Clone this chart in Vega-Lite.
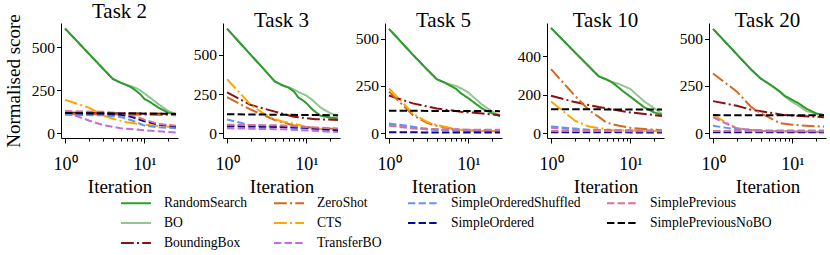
{
"$schema":"https://vega.github.io/schema/vega-lite/v6.json",
"padding":{"left":4,"top":0,"right":0,"bottom":0},
"bounds":"flush",
"spacing":45,
"datasets":{"d":[
{"t":2,"m":"BO","x":1,"y":610},{"t":2,"m":"BO","x":2,"y":463},{"t":2,"m":"BO","x":3,"y":377},{"t":2,"m":"BO","x":4,"y":317},{"t":2,"m":"BO","x":5,"y":295},{"t":2,"m":"BO","x":6,"y":282},{"t":2,"m":"BO","x":7,"y":272},{"t":2,"m":"BO","x":8,"y":262},{"t":2,"m":"BO","x":9,"y":248},{"t":2,"m":"BO","x":10,"y":232},{"t":2,"m":"BO","x":12,"y":205},{"t":2,"m":"BO","x":15,"y":170},{"t":2,"m":"BO","x":20,"y":130},{"t":2,"m":"BO","x":25,"y":112},
{"t":2,"m":"RandomSearch","x":1,"y":610},{"t":2,"m":"RandomSearch","x":2,"y":463},{"t":2,"m":"RandomSearch","x":3,"y":377},{"t":2,"m":"RandomSearch","x":4,"y":317},{"t":2,"m":"RandomSearch","x":5,"y":295},{"t":2,"m":"RandomSearch","x":6,"y":280},{"t":2,"m":"RandomSearch","x":7,"y":265},{"t":2,"m":"RandomSearch","x":8,"y":245},{"t":2,"m":"RandomSearch","x":9,"y":225},{"t":2,"m":"RandomSearch","x":10,"y":200},{"t":2,"m":"RandomSearch","x":12,"y":180},{"t":2,"m":"RandomSearch","x":15,"y":150},{"t":2,"m":"RandomSearch","x":20,"y":120},{"t":2,"m":"RandomSearch","x":25,"y":108},
{"t":2,"m":"BoundingBox","x":1,"y":120},{"t":2,"m":"BoundingBox","x":5,"y":117},{"t":2,"m":"BoundingBox","x":25,"y":114},
{"t":2,"m":"ZeroShot","x":1,"y":112},{"t":2,"m":"ZeroShot","x":5,"y":110},{"t":2,"m":"ZeroShot","x":10,"y":108},{"t":2,"m":"ZeroShot","x":25,"y":106},
{"t":2,"m":"CTS","x":1,"y":195},{"t":2,"m":"CTS","x":2,"y":150},{"t":2,"m":"CTS","x":3,"y":105},{"t":2,"m":"CTS","x":4,"y":85},{"t":2,"m":"CTS","x":6,"y":65},{"t":2,"m":"CTS","x":10,"y":50},{"t":2,"m":"CTS","x":15,"y":42},{"t":2,"m":"CTS","x":25,"y":35},
{"t":2,"m":"TransferBO","x":1,"y":125},{"t":2,"m":"TransferBO","x":2,"y":75},{"t":2,"m":"TransferBO","x":3,"y":48},{"t":2,"m":"TransferBO","x":5,"y":30},{"t":2,"m":"TransferBO","x":10,"y":18},{"t":2,"m":"TransferBO","x":25,"y":5},
{"t":2,"m":"SimpleOrderedShuffled","x":1,"y":108},{"t":2,"m":"SimpleOrderedShuffled","x":3,"y":105},{"t":2,"m":"SimpleOrderedShuffled","x":5,"y":95},{"t":2,"m":"SimpleOrderedShuffled","x":7,"y":75},{"t":2,"m":"SimpleOrderedShuffled","x":10,"y":45},{"t":2,"m":"SimpleOrderedShuffled","x":15,"y":35},{"t":2,"m":"SimpleOrderedShuffled","x":25,"y":30},
{"t":2,"m":"SimpleOrdered","x":1,"y":120},{"t":2,"m":"SimpleOrdered","x":3,"y":115},{"t":2,"m":"SimpleOrdered","x":5,"y":108},{"t":2,"m":"SimpleOrdered","x":7,"y":95},{"t":2,"m":"SimpleOrdered","x":10,"y":70},{"t":2,"m":"SimpleOrdered","x":15,"y":50},{"t":2,"m":"SimpleOrdered","x":25,"y":40},
{"t":2,"m":"SimplePrevious","x":1,"y":130},{"t":2,"m":"SimplePrevious","x":3,"y":125},{"t":2,"m":"SimplePrevious","x":5,"y":118},{"t":2,"m":"SimplePrevious","x":7,"y":105},{"t":2,"m":"SimplePrevious","x":10,"y":80},{"t":2,"m":"SimplePrevious","x":15,"y":55},{"t":2,"m":"SimplePrevious","x":25,"y":45},
{"t":2,"m":"SimplePreviousNoBO","x":1,"y":118},{"t":2,"m":"SimplePreviousNoBO","x":5,"y":116},{"t":2,"m":"SimplePreviousNoBO","x":25,"y":113},

{"t":3,"m":"BO","x":1,"y":666},{"t":3,"m":"BO","x":2,"y":498},{"t":3,"m":"BO","x":3,"y":401},{"t":3,"m":"BO","x":4,"y":330},{"t":3,"m":"BO","x":5,"y":305},{"t":3,"m":"BO","x":6,"y":292},{"t":3,"m":"BO","x":7,"y":278},{"t":3,"m":"BO","x":8,"y":262},{"t":3,"m":"BO","x":10,"y":240},{"t":3,"m":"BO","x":12,"y":210},{"t":3,"m":"BO","x":15,"y":165},{"t":3,"m":"BO","x":20,"y":128},{"t":3,"m":"BO","x":25,"y":110},
{"t":3,"m":"RandomSearch","x":1,"y":666},{"t":3,"m":"RandomSearch","x":2,"y":498},{"t":3,"m":"RandomSearch","x":3,"y":401},{"t":3,"m":"RandomSearch","x":4,"y":330},{"t":3,"m":"RandomSearch","x":5,"y":305},{"t":3,"m":"RandomSearch","x":6,"y":290},{"t":3,"m":"RandomSearch","x":7,"y":265},{"t":3,"m":"RandomSearch","x":8,"y":225},{"t":3,"m":"RandomSearch","x":9,"y":210},{"t":3,"m":"RandomSearch","x":10,"y":192},{"t":3,"m":"RandomSearch","x":12,"y":150},{"t":3,"m":"RandomSearch","x":15,"y":112},{"t":3,"m":"RandomSearch","x":20,"y":100},{"t":3,"m":"RandomSearch","x":25,"y":95},
{"t":3,"m":"BoundingBox","x":1,"y":260},{"t":3,"m":"BoundingBox","x":2,"y":180},{"t":3,"m":"BoundingBox","x":4,"y":138},{"t":3,"m":"BoundingBox","x":7,"y":105},{"t":3,"m":"BoundingBox","x":13,"y":90},{"t":3,"m":"BoundingBox","x":25,"y":85},
{"t":3,"m":"ZeroShot","x":1,"y":230},{"t":3,"m":"ZeroShot","x":2,"y":150},{"t":3,"m":"ZeroShot","x":4,"y":85},{"t":3,"m":"ZeroShot","x":7,"y":50},{"t":3,"m":"ZeroShot","x":12,"y":35},{"t":3,"m":"ZeroShot","x":25,"y":28},
{"t":3,"m":"CTS","x":1,"y":345},{"t":3,"m":"CTS","x":2,"y":180},{"t":3,"m":"CTS","x":3,"y":120},{"t":3,"m":"CTS","x":4,"y":90},{"t":3,"m":"CTS","x":5,"y":75},{"t":3,"m":"CTS","x":7,"y":60},{"t":3,"m":"CTS","x":10,"y":40},{"t":3,"m":"CTS","x":15,"y":28},{"t":3,"m":"CTS","x":25,"y":18},
{"t":3,"m":"TransferBO","x":1,"y":32},{"t":3,"m":"TransferBO","x":5,"y":25},{"t":3,"m":"TransferBO","x":25,"y":8},
{"t":3,"m":"SimpleOrderedShuffled","x":1,"y":88},{"t":3,"m":"SimpleOrderedShuffled","x":2,"y":50},{"t":3,"m":"SimpleOrderedShuffled","x":5,"y":40},{"t":3,"m":"SimpleOrderedShuffled","x":10,"y":30},{"t":3,"m":"SimpleOrderedShuffled","x":25,"y":18},
{"t":3,"m":"SimpleOrdered","x":1,"y":45},{"t":3,"m":"SimpleOrdered","x":5,"y":40},{"t":3,"m":"SimpleOrdered","x":10,"y":35},{"t":3,"m":"SimpleOrdered","x":25,"y":20},
{"t":3,"m":"SimplePrevious","x":1,"y":55},{"t":3,"m":"SimplePrevious","x":5,"y":50},{"t":3,"m":"SimplePrevious","x":10,"y":40},{"t":3,"m":"SimplePrevious","x":25,"y":30},
{"t":3,"m":"SimplePreviousNoBO","x":1,"y":121},{"t":3,"m":"SimplePreviousNoBO","x":25,"y":115},

{"t":5,"m":"BO","x":1,"y":552},{"t":5,"m":"BO","x":2,"y":415},{"t":5,"m":"BO","x":3,"y":338},{"t":5,"m":"BO","x":4,"y":286},{"t":5,"m":"BO","x":5,"y":268},{"t":5,"m":"BO","x":6,"y":258},{"t":5,"m":"BO","x":7,"y":250},{"t":5,"m":"BO","x":8,"y":238},{"t":5,"m":"BO","x":10,"y":215},{"t":5,"m":"BO","x":12,"y":185},{"t":5,"m":"BO","x":15,"y":150},{"t":5,"m":"BO","x":20,"y":115},{"t":5,"m":"BO","x":25,"y":95},
{"t":5,"m":"RandomSearch","x":1,"y":552},{"t":5,"m":"RandomSearch","x":2,"y":415},{"t":5,"m":"RandomSearch","x":3,"y":338},{"t":5,"m":"RandomSearch","x":4,"y":286},{"t":5,"m":"RandomSearch","x":5,"y":268},{"t":5,"m":"RandomSearch","x":6,"y":250},{"t":5,"m":"RandomSearch","x":7,"y":235},{"t":5,"m":"RandomSearch","x":8,"y":212},{"t":5,"m":"RandomSearch","x":10,"y":185},{"t":5,"m":"RandomSearch","x":12,"y":160},{"t":5,"m":"RandomSearch","x":15,"y":130},{"t":5,"m":"RandomSearch","x":20,"y":105},{"t":5,"m":"RandomSearch","x":25,"y":90},
{"t":5,"m":"BoundingBox","x":1,"y":200},{"t":5,"m":"BoundingBox","x":2,"y":158},{"t":5,"m":"BoundingBox","x":4,"y":131},{"t":5,"m":"BoundingBox","x":8,"y":114},{"t":5,"m":"BoundingBox","x":15,"y":105},{"t":5,"m":"BoundingBox","x":25,"y":95},
{"t":5,"m":"ZeroShot","x":1,"y":220},{"t":5,"m":"ZeroShot","x":2,"y":96},{"t":5,"m":"ZeroShot","x":3,"y":55},{"t":5,"m":"ZeroShot","x":4,"y":39},{"t":5,"m":"ZeroShot","x":6,"y":25},{"t":5,"m":"ZeroShot","x":10,"y":15},{"t":5,"m":"ZeroShot","x":25,"y":10},
{"t":5,"m":"CTS","x":1,"y":237},{"t":5,"m":"CTS","x":2,"y":105},{"t":5,"m":"CTS","x":3,"y":60},{"t":5,"m":"CTS","x":4,"y":44},{"t":5,"m":"CTS","x":6,"y":28},{"t":5,"m":"CTS","x":8,"y":18},{"t":5,"m":"CTS","x":15,"y":12},{"t":5,"m":"CTS","x":25,"y":10},
{"t":5,"m":"TransferBO","x":1,"y":45},{"t":5,"m":"TransferBO","x":2,"y":30},{"t":5,"m":"TransferBO","x":4,"y":20},{"t":5,"m":"TransferBO","x":25,"y":15},
{"t":5,"m":"SimpleOrderedShuffled","x":1,"y":52},{"t":5,"m":"SimpleOrderedShuffled","x":2,"y":35},{"t":5,"m":"SimpleOrderedShuffled","x":3,"y":20},{"t":5,"m":"SimpleOrderedShuffled","x":10,"y":12},{"t":5,"m":"SimpleOrderedShuffled","x":25,"y":10},
{"t":5,"m":"SimpleOrdered","x":1,"y":5},{"t":5,"m":"SimpleOrdered","x":25,"y":4},
{"t":5,"m":"SimplePrevious","x":1,"y":40},{"t":5,"m":"SimplePrevious","x":2,"y":25},{"t":5,"m":"SimplePrevious","x":5,"y":20},{"t":5,"m":"SimplePrevious","x":25,"y":18},
{"t":5,"m":"SimplePreviousNoBO","x":1,"y":119},{"t":5,"m":"SimplePreviousNoBO","x":25,"y":117},

{"t":10,"m":"BO","x":1,"y":548},{"t":10,"m":"BO","x":2,"y":421},{"t":10,"m":"BO","x":3,"y":348},{"t":10,"m":"BO","x":4,"y":296},{"t":10,"m":"BO","x":5,"y":280},{"t":10,"m":"BO","x":6,"y":265},{"t":10,"m":"BO","x":7,"y":258},{"t":10,"m":"BO","x":8,"y":248},{"t":10,"m":"BO","x":10,"y":230},{"t":10,"m":"BO","x":12,"y":200},{"t":10,"m":"BO","x":15,"y":165},{"t":10,"m":"BO","x":20,"y":130},{"t":10,"m":"BO","x":25,"y":100},
{"t":10,"m":"RandomSearch","x":1,"y":548},{"t":10,"m":"RandomSearch","x":2,"y":421},{"t":10,"m":"RandomSearch","x":3,"y":348},{"t":10,"m":"RandomSearch","x":4,"y":296},{"t":10,"m":"RandomSearch","x":5,"y":280},{"t":10,"m":"RandomSearch","x":6,"y":262},{"t":10,"m":"RandomSearch","x":7,"y":240},{"t":10,"m":"RandomSearch","x":8,"y":220},{"t":10,"m":"RandomSearch","x":10,"y":190},{"t":10,"m":"RandomSearch","x":12,"y":165},{"t":10,"m":"RandomSearch","x":15,"y":135},{"t":10,"m":"RandomSearch","x":20,"y":108},{"t":10,"m":"RandomSearch","x":25,"y":95},
{"t":10,"m":"BoundingBox","x":1,"y":195},{"t":10,"m":"BoundingBox","x":2,"y":162},{"t":10,"m":"BoundingBox","x":4,"y":136},{"t":10,"m":"BoundingBox","x":10,"y":108},{"t":10,"m":"BoundingBox","x":25,"y":90},
{"t":10,"m":"ZeroShot","x":1,"y":334},{"t":10,"m":"ZeroShot","x":2,"y":195},{"t":10,"m":"ZeroShot","x":3,"y":120},{"t":10,"m":"ZeroShot","x":4,"y":85},{"t":10,"m":"ZeroShot","x":5,"y":55},{"t":10,"m":"ZeroShot","x":7,"y":40},{"t":10,"m":"ZeroShot","x":10,"y":28},{"t":10,"m":"ZeroShot","x":15,"y":22},{"t":10,"m":"ZeroShot","x":25,"y":15},
{"t":10,"m":"CTS","x":1,"y":165},{"t":10,"m":"CTS","x":2,"y":65},{"t":10,"m":"CTS","x":3,"y":35},{"t":10,"m":"CTS","x":6,"y":15},{"t":10,"m":"CTS","x":25,"y":10},
{"t":10,"m":"TransferBO","x":1,"y":28},{"t":10,"m":"TransferBO","x":3,"y":15},{"t":10,"m":"TransferBO","x":25,"y":14},
{"t":10,"m":"SimpleOrderedShuffled","x":1,"y":35},{"t":10,"m":"SimpleOrderedShuffled","x":3,"y":18},{"t":10,"m":"SimpleOrderedShuffled","x":25,"y":12},
{"t":10,"m":"SimpleOrdered","x":1,"y":5},{"t":10,"m":"SimpleOrdered","x":25,"y":4},
{"t":10,"m":"SimplePrevious","x":1,"y":12},{"t":10,"m":"SimplePrevious","x":25,"y":10},
{"t":10,"m":"SimplePreviousNoBO","x":1,"y":125},{"t":10,"m":"SimplePreviousNoBO","x":25,"y":123},

{"t":20,"m":"BO","x":1,"y":552},{"t":20,"m":"BO","x":2,"y":417},{"t":20,"m":"BO","x":3,"y":338},{"t":20,"m":"BO","x":4,"y":289},{"t":20,"m":"BO","x":5,"y":263},{"t":20,"m":"BO","x":6,"y":240},{"t":20,"m":"BO","x":7,"y":218},{"t":20,"m":"BO","x":8,"y":195},{"t":20,"m":"BO","x":10,"y":165},{"t":20,"m":"BO","x":12,"y":145},{"t":20,"m":"BO","x":15,"y":118},{"t":20,"m":"BO","x":20,"y":102},{"t":20,"m":"BO","x":25,"y":96},
{"t":20,"m":"RandomSearch","x":1,"y":552},{"t":20,"m":"RandomSearch","x":2,"y":417},{"t":20,"m":"RandomSearch","x":3,"y":338},{"t":20,"m":"RandomSearch","x":4,"y":289},{"t":20,"m":"RandomSearch","x":5,"y":263},{"t":20,"m":"RandomSearch","x":6,"y":240},{"t":20,"m":"RandomSearch","x":7,"y":220},{"t":20,"m":"RandomSearch","x":8,"y":198},{"t":20,"m":"RandomSearch","x":10,"y":176},{"t":20,"m":"RandomSearch","x":12,"y":158},{"t":20,"m":"RandomSearch","x":15,"y":130},{"t":20,"m":"RandomSearch","x":20,"y":105},{"t":20,"m":"RandomSearch","x":25,"y":96},
{"t":20,"m":"BoundingBox","x":1,"y":170},{"t":20,"m":"BoundingBox","x":2,"y":145},{"t":20,"m":"BoundingBox","x":3,"y":125},{"t":20,"m":"BoundingBox","x":8,"y":96},{"t":20,"m":"BoundingBox","x":25,"y":85},
{"t":20,"m":"ZeroShot","x":1,"y":316},{"t":20,"m":"ZeroShot","x":2,"y":220},{"t":20,"m":"ZeroShot","x":3,"y":140},{"t":20,"m":"ZeroShot","x":4,"y":105},{"t":20,"m":"ZeroShot","x":5,"y":85},{"t":20,"m":"ZeroShot","x":7,"y":53},{"t":20,"m":"ZeroShot","x":10,"y":45},{"t":20,"m":"ZeroShot","x":15,"y":40},{"t":20,"m":"ZeroShot","x":25,"y":35},
{"t":20,"m":"CTS","x":1,"y":96},{"t":20,"m":"CTS","x":2,"y":26},{"t":20,"m":"CTS","x":4,"y":12},{"t":20,"m":"CTS","x":25,"y":5},
{"t":20,"m":"TransferBO","x":1,"y":84},{"t":20,"m":"TransferBO","x":2,"y":25},{"t":20,"m":"TransferBO","x":4,"y":12},{"t":20,"m":"TransferBO","x":25,"y":8},
{"t":20,"m":"SimpleOrderedShuffled","x":1,"y":40},{"t":20,"m":"SimpleOrderedShuffled","x":2,"y":20},{"t":20,"m":"SimpleOrderedShuffled","x":5,"y":15},{"t":20,"m":"SimpleOrderedShuffled","x":25,"y":14},
{"t":20,"m":"SimpleOrdered","x":1,"y":6},{"t":20,"m":"SimpleOrdered","x":25,"y":5},
{"t":20,"m":"SimplePrevious","x":1,"y":12},{"t":20,"m":"SimplePrevious","x":25,"y":10},
{"t":20,"m":"SimplePreviousNoBO","x":1,"y":96},{"t":20,"m":"SimplePreviousNoBO","x":25,"y":95}
]},
"hconcat":[
{"width":117,"height":115,"title":"Task 2","data":{"name":"d"},"transform":[{"filter":"datum.t==2"}],
"mark":{"type":"line","strokeWidth":2},
"encoding":{
"x":{"field":"x","type":"quantitative","scale":{"type":"log","domain":[0.89,26.5],"nice":false},"axis":{"title":"Iteration","values":[1,2,3,4,5,6,7,8,9,10,20],"labelExpr":"datum.value==1?'10⁰':datum.value==10?'10¹':''","tickSize":{"condition":{"test":"datum.value==1||datum.value==10","value":5},"value":3}}},
"y":{"field":"y","type":"quantitative","scale":{"domain":[-27,642],"nice":false,"zero":false},"axis":{"title":"Normalised score","values":[0,250,500]}},
"color":{"field":"m","type":"nominal","scale":{"domain":["RandomSearch","ZeroShot","SimpleOrderedShuffled","SimplePrevious","BO","CTS","SimpleOrdered","SimplePreviousNoBO","BoundingBox","TransferBO"],"range":["#2f9a2f","#d2691e","#6495ed","#db7093","#8fc88f","#ffa500","#0a0a8c","#000000","#8b1010","#c36ddb"]},"legend":{"title":null}},
"strokeDash":{"field":"m","type":"nominal","scale":{"domain":["RandomSearch","ZeroShot","SimpleOrderedShuffled","SimplePrevious","BO","CTS","SimpleOrdered","SimplePreviousNoBO","BoundingBox","TransferBO"],"range":[[1,0],[12.8,3.2,2,3.2],[7.4,3.2],[7.4,3.2],[1,0],[12.8,3.2,2,3.2],[7.4,3.2],[7.4,3.2],[12.8,3.2,2,3.2],[7.4,3.2]]},"legend":{"title":null}}
}},
{"width":117,"height":115,"title":"Task 3","data":{"name":"d"},"transform":[{"filter":"datum.t==3"}],
"mark":{"type":"line","strokeWidth":2},
"encoding":{
"x":{"field":"x","type":"quantitative","scale":{"type":"log","domain":[0.89,26.5],"nice":false},"axis":{"title":"Iteration","values":[1,2,3,4,5,6,7,8,9,10,20],"labelExpr":"datum.value==1?'10⁰':datum.value==10?'10¹':''","tickSize":{"condition":{"test":"datum.value==1||datum.value==10","value":5},"value":3}}},
"y":{"field":"y","type":"quantitative","scale":{"domain":[-30,702],"nice":false,"zero":false},"axis":{"title":null,"values":[0,250,500]}},
"color":{"field":"m","type":"nominal","scale":{"domain":["RandomSearch","ZeroShot","SimpleOrderedShuffled","SimplePrevious","BO","CTS","SimpleOrdered","SimplePreviousNoBO","BoundingBox","TransferBO"],"range":["#2f9a2f","#d2691e","#6495ed","#db7093","#8fc88f","#ffa500","#0a0a8c","#000000","#8b1010","#c36ddb"]},"legend":{"title":null}},
"strokeDash":{"field":"m","type":"nominal","scale":{"domain":["RandomSearch","ZeroShot","SimpleOrderedShuffled","SimplePrevious","BO","CTS","SimpleOrdered","SimplePreviousNoBO","BoundingBox","TransferBO"],"range":[[1,0],[12.8,3.2,2,3.2],[7.4,3.2],[7.4,3.2],[1,0],[12.8,3.2,2,3.2],[7.4,3.2],[7.4,3.2],[12.8,3.2,2,3.2],[7.4,3.2]]},"legend":{"title":null}}
}},
{"width":117,"height":115,"title":"Task 5","data":{"name":"d"},"transform":[{"filter":"datum.t==5"}],
"mark":{"type":"line","strokeWidth":2},
"encoding":{
"x":{"field":"x","type":"quantitative","scale":{"type":"log","domain":[0.89,26.5],"nice":false},"axis":{"title":"Iteration","values":[1,2,3,4,5,6,7,8,9,10,20],"labelExpr":"datum.value==1?'10⁰':datum.value==10?'10¹':''","tickSize":{"condition":{"test":"datum.value==1||datum.value==10","value":5},"value":3}}},
"y":{"field":"y","type":"quantitative","scale":{"domain":[-25,583],"nice":false,"zero":false},"axis":{"title":null,"values":[0,250,500]}},
"color":{"field":"m","type":"nominal","scale":{"domain":["RandomSearch","ZeroShot","SimpleOrderedShuffled","SimplePrevious","BO","CTS","SimpleOrdered","SimplePreviousNoBO","BoundingBox","TransferBO"],"range":["#2f9a2f","#d2691e","#6495ed","#db7093","#8fc88f","#ffa500","#0a0a8c","#000000","#8b1010","#c36ddb"]},"legend":{"title":null}},
"strokeDash":{"field":"m","type":"nominal","scale":{"domain":["RandomSearch","ZeroShot","SimpleOrderedShuffled","SimplePrevious","BO","CTS","SimpleOrdered","SimplePreviousNoBO","BoundingBox","TransferBO"],"range":[[1,0],[12.8,3.2,2,3.2],[7.4,3.2],[7.4,3.2],[1,0],[12.8,3.2,2,3.2],[7.4,3.2],[7.4,3.2],[12.8,3.2,2,3.2],[7.4,3.2]]},"legend":{"title":null}}
}},
{"width":117,"height":115,"title":"Task 10","data":{"name":"d"},"transform":[{"filter":"datum.t==10"}],
"mark":{"type":"line","strokeWidth":2},
"encoding":{
"x":{"field":"x","type":"quantitative","scale":{"type":"log","domain":[0.89,26.5],"nice":false},"axis":{"title":"Iteration","values":[1,2,3,4,5,6,7,8,9,10,20],"labelExpr":"datum.value==1?'10⁰':datum.value==10?'10¹':''","tickSize":{"condition":{"test":"datum.value==1||datum.value==10","value":5},"value":3}}},
"y":{"field":"y","type":"quantitative","scale":{"domain":[-25,574],"nice":false,"zero":false},"axis":{"title":null,"values":[0,200,400]}},
"color":{"field":"m","type":"nominal","scale":{"domain":["RandomSearch","ZeroShot","SimpleOrderedShuffled","SimplePrevious","BO","CTS","SimpleOrdered","SimplePreviousNoBO","BoundingBox","TransferBO"],"range":["#2f9a2f","#d2691e","#6495ed","#db7093","#8fc88f","#ffa500","#0a0a8c","#000000","#8b1010","#c36ddb"]},"legend":{"title":null}},
"strokeDash":{"field":"m","type":"nominal","scale":{"domain":["RandomSearch","ZeroShot","SimpleOrderedShuffled","SimplePrevious","BO","CTS","SimpleOrdered","SimplePreviousNoBO","BoundingBox","TransferBO"],"range":[[1,0],[12.8,3.2,2,3.2],[7.4,3.2],[7.4,3.2],[1,0],[12.8,3.2,2,3.2],[7.4,3.2],[7.4,3.2],[12.8,3.2,2,3.2],[7.4,3.2]]},"legend":{"title":null}}
}},
{"width":117,"height":115,"title":"Task 20","data":{"name":"d"},"transform":[{"filter":"datum.t==20"}],
"mark":{"type":"line","strokeWidth":2},
"encoding":{
"x":{"field":"x","type":"quantitative","scale":{"type":"log","domain":[0.89,26.5],"nice":false},"axis":{"title":"Iteration","values":[1,2,3,4,5,6,7,8,9,10,20],"labelExpr":"datum.value==1?'10⁰':datum.value==10?'10¹':''","tickSize":{"condition":{"test":"datum.value==1||datum.value==10","value":5},"value":3}}},
"y":{"field":"y","type":"quantitative","scale":{"domain":[-25,583],"nice":false,"zero":false},"axis":{"title":null,"values":[0,250,500]}},
"color":{"field":"m","type":"nominal","scale":{"domain":["RandomSearch","ZeroShot","SimpleOrderedShuffled","SimplePrevious","BO","CTS","SimpleOrdered","SimplePreviousNoBO","BoundingBox","TransferBO"],"range":["#2f9a2f","#d2691e","#6495ed","#db7093","#8fc88f","#ffa500","#0a0a8c","#000000","#8b1010","#c36ddb"]},"legend":{"title":null}},
"strokeDash":{"field":"m","type":"nominal","scale":{"domain":["RandomSearch","ZeroShot","SimpleOrderedShuffled","SimplePrevious","BO","CTS","SimpleOrdered","SimplePreviousNoBO","BoundingBox","TransferBO"],"range":[[1,0],[12.8,3.2,2,3.2],[7.4,3.2],[7.4,3.2],[1,0],[12.8,3.2,2,3.2],[7.4,3.2],[7.4,3.2],[12.8,3.2,2,3.2],[7.4,3.2]]},"legend":{"title":null}}
}}
],
"resolve":{"scale":{"color":"shared","strokeDash":"shared"},"legend":{"color":"shared","strokeDash":"shared"}},
"config":{
"font":"Liberation Serif",
"view":{"stroke":null},
"style":{"guide-label":{"font":"Liberation Serif","fontWeight":"normal"},"guide-title":{"font":"Liberation Serif","fontWeight":"normal"},"group-title":{"font":"Liberation Serif","fontWeight":"normal"}},
"axis":{"grid":false,"domainColor":"black","domainWidth":1,"tickColor":"black","tickWidth":1,"tickSize":4.5,"labelColor":"black","titleColor":"black","labelFont":"Liberation Serif","titleFont":"Liberation Serif","titleFontWeight":"normal","labelFontWeight":"normal","labelFontSize":15.5,"titleFontSize":19,"labelPadding":2,"labelFlush":false,"labelOverlap":false},
"axisX":{"labelFontSize":18,"labelPadding":12.5,"titlePadding":3.5},
"axisY":{"titlePadding":8},
"title":{"font":"Liberation Serif","fontSize":21,"fontWeight":"normal","color":"black","baseline":"alphabetic","offset":-8,"frame":"group"},
"legend":{"orient":"none","direction":"horizontal","legendX":64,"legendY":169,"columns":4,"columnPadding":22,"rowPadding":2,"padding":0,"symbolType":"M-1.5,0H1.5","symbolSize":400,"symbolStrokeWidth":2,"labelFont":"Liberation Serif","labelFontWeight":"normal","labelFontSize":13.6,"labelColor":"black","labelOffset":17,"labelLimit":300}
}
}
